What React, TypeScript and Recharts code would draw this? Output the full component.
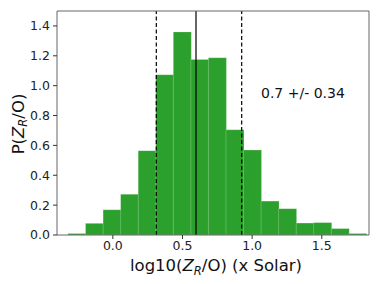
import React from 'react';
import { ComposedChart, Bar, XAxis, YAxis, ReferenceLine, Label } from 'recharts';

// histogram bin centres (log10 Z_R/O) and densities
const binCenters = [-0.259, -0.133, -0.007, 0.119, 0.245, 0.371, 0.497, 0.623, 0.749, 0.875, 1.001, 1.127, 1.253, 1.379, 1.505, 1.631, 1.757];
const density = [0.01, 0.078, 0.169, 0.273, 0.565, 1.073, 1.36, 1.176, 1.187, 0.705, 0.569, 0.227, 0.176, 0.08, 0.083, 0.043, 0.01];

const xTicks = [0, 0.5, 1.0, 1.5];
const yTicks = [0, 0.2, 0.4, 0.6, 0.8, 1.0, 1.2, 1.4];
const xDomain = [-0.401, 1.839];
const yDomain = [0, 1.5];

const median = 0.597;
const lower = 0.312;
const upper = 0.925;
const annotation = '0.7 +/- 0.34';

const FONT = '"DejaVu Sans", sans-serif';
const SPINE = '#666';

const data = binCenters.map((x, i) => ({ x, p: density[i] }));

const XLabel = ({ viewBox }: any) => {
  const cx = viewBox.x + viewBox.width / 2 + 3;
  return (
    <text x={cx} y={271} textAnchor="middle" fontFamily={FONT} fontSize={16.5} fill="#111">
      log10(<tspan fontStyle="italic">Z</tspan>
      <tspan fontStyle="italic" fontSize={11.5} dy={3.5}>R</tspan>
      <tspan dy={-3.5}>/O) (x Solar)</tspan>
    </text>
  );
};

const YLabel = ({ viewBox }: any) => {
  const cy = viewBox.y + viewBox.height / 2 + 1;
  return (
    <text x={0} y={0} transform={`translate(23.5, ${cy}) rotate(-90)`} textAnchor="middle" fontFamily={FONT} fontSize={16.5} fill="#111">
      P(<tspan fontStyle="italic">Z</tspan>
      <tspan fontStyle="italic" fontSize={11.5} dy={3.5}>R</tspan>
      <tspan dy={-3.5}>/O)</tspan>
    </text>
  );
};

export default function App() {
  return (
    <div style={{ position: 'absolute', left: 0, top: 0, width: 381, height: 284, background: '#fff' }}>
      <ComposedChart width={381} height={284} data={data} margin={{ top: 11, right: 12, left: 0, bottom: 0 }} barCategoryGap={0} barGap={0}>
        <XAxis
          dataKey="x"
          type="number"
          domain={xDomain}
          allowDataOverflow
          ticks={xTicks}
          tickFormatter={(v: number) => v.toFixed(1)}
          height={49}
          tickSize={4}
          tickMargin={2}
          axisLine={{ stroke: SPINE }}
          tickLine={{ stroke: '#333' }}
          tick={{ fill: '#222', fontSize: 12.5, fontFamily: FONT }}
        >
          <Label content={<XLabel />} />
        </XAxis>
        <YAxis
          type="number"
          domain={yDomain}
          allowDataOverflow
          ticks={yTicks}
          tickFormatter={(v: number) => v.toFixed(1)}
          width={57}
          tickSize={4}
          tickMargin={3}
          axisLine={{ stroke: SPINE }}
          tickLine={{ stroke: '#333' }}
          tick={{ fill: '#222', fontSize: 12.5, fontFamily: FONT }}
        >
          <Label content={<YLabel />} />
        </YAxis>
        <Bar dataKey="p" fill="#2ca02c" stroke="rgba(255,255,255,0.25)" strokeWidth={0.8} isAnimationActive={false} />
        <ReferenceLine x={lower} stroke="#000" strokeWidth={1.2} strokeDasharray="4 2.5" />
        <ReferenceLine x={median} stroke="#000" strokeWidth={1.2} />
        <ReferenceLine x={upper} stroke="#000" strokeWidth={1.2} strokeDasharray="4 2.5" />
        <ReferenceLine y={yDomain[1]} stroke={SPINE} />
        <ReferenceLine x={xDomain[1]} stroke={SPINE} />
      </ComposedChart>
      <div style={{ position: 'absolute', left: 261, top: 86, fontFamily: FONT, fontSize: 14, lineHeight: '14px', color: '#111', whiteSpace: 'nowrap' }}>
        {annotation}
      </div>
    </div>
  );
}
